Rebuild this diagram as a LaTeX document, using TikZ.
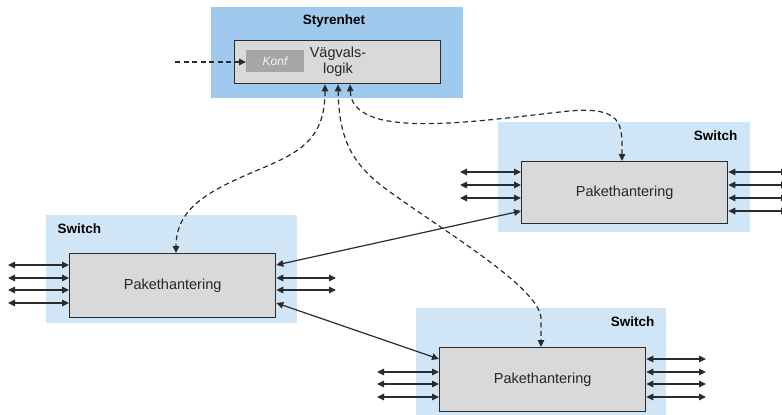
\documentclass[tikz,border=0pt]{standalone}
\usepackage{fontspec}
\setmainfont{Liberation Sans}
\usetikzlibrary{arrows.meta,calc}
\definecolor{ctrlblue}{HTML}{9FCAEE}
\definecolor{swblue}{HTML}{D0E5F6}
\definecolor{boxgray}{HTML}{D9D9D9}
\definecolor{konfgray}{HTML}{A6A6A6}
\definecolor{edge}{HTML}{2B2B2B}
\tikzset{
  panel/.style={draw=none, inner sep=0pt, anchor=north west},
  unit/.style={draw=edge, line width=1.3pt, fill=boxgray, inner sep=0pt, anchor=north west},
  tip/.tip={Triangle[length=7pt,width=6.5pt]},
  port/.style={line width=1.2pt, draw=edge, tip-tip},
  link/.style={line width=1.2pt, draw=edge, tip-tip},
  ctrl/.style={line width=1.2pt, draw=edge, dash pattern=on 5pt off 3.5pt, tip-tip},
  label/.style={font=\fontsize{13.5}{16}\selectfont\bfseries, text=black},
  unittext/.style={font=\fontsize{14.5}{16}\selectfont, text=black!85},
}
\begin{document}
\begin{tikzpicture}[x=1pt,y=-1pt]
\useasboundingbox (0,0) rectangle (782,415);

% control unit
\node[panel, fill=ctrlblue, minimum width=252pt, minimum height=91pt] (ctrl) at (211,7) {};
\node[label] (ctrltitle) at (334,21) {Styrenhet};
\node[unit, minimum width=206pt, minimum height=43pt] (route) at (234,40) {};
\node[panel, fill=konfgray, minimum width=58pt, minimum height=22pt] (konf) at (246,50) {};
\node[font=\fontsize{12}{14}\selectfont\itshape, text=white!92!gray] (konftext) at (275,61) {Konf};
\node[unittext, align=center, inner sep=0pt] (routetext) at (338,62) {Vägvals-\\logik};
\coordinate (cfgin) at (175,62);
\draw[ctrl, -tip] (cfgin) -- (konf.west |- cfgin);

% switches
\node[panel, fill=swblue, minimum width=251pt, minimum height=108pt] (swA) at (46,215) {};
\node[label, anchor=west] (swAtitle) at (54,229) {Switch};
\node[unit, minimum width=206pt, minimum height=64pt] (pA) at (69,253) {};
\node[unittext] (pAtext) at (pA.center) {Pakethantering};

\node[panel, fill=swblue, minimum width=252pt, minimum height=110pt] (swB) at (498,122) {};
\node[label, anchor=east] (swBtitle) at (741,136) {Switch};
\node[unit, minimum width=206pt, minimum height=62pt] (pB) at (521,161) {};
\node[unittext] (pBtext) at (pB.center) {Pakethantering};

\node[panel, fill=swblue, minimum width=250pt, minimum height=110pt] (swC) at (416,308) {};
\node[label, anchor=east] (swCtitle) at (658,322) {Switch};
\node[unit, minimum width=206pt, minimum height=64pt] (pC) at (439,347) {};
\node[unittext] (pCtext) at (pC.center) {Pakethantering};

% external ports
\foreach \y [count=\i] in {265,278,290,303}
  {\coordinate (aL\i) at (8,\y); \draw[port] (aL\i) -- (pA.west |- aL\i);}
\foreach \y [count=\i] in {278,290}
  {\coordinate (aR\i) at (336,\y); \draw[port] (pA.east |- aR\i) -- (aR\i);}
\foreach \y [count=\i] in {172,185,198}
  {\coordinate (bL\i) at (460,\y); \draw[port] (bL\i) -- (pB.west |- bL\i);}
\foreach \y [count=\i] in {172,185,198,211}
  {\coordinate (bR\i) at (788,\y); \draw[port] (pB.east |- bR\i) -- (bR\i);}
\foreach \y [count=\i] in {372,384,397}
  {\coordinate (cL\i) at (377,\y); \draw[port] (cL\i) -- (pC.west |- cL\i);}
\foreach \y [count=\i] in {359,372,384,397}
  {\coordinate (cR\i) at (706,\y); \draw[port] (pC.east |- cR\i) -- (cR\i);}

% links between switches
\draw[link] (pA.east |- 0,265) -- (pB.west |- 0,211);
\draw[link] (pA.east |- 0,303) -- (pC.west |- 0,359);

% control connections
\draw[ctrl] (route.south -| 325,0) .. controls (325,135) and (305,150) .. (265,167)
  .. controls (215,188) and (176,205) .. (pA.north -| 176,0);
\draw[ctrl] (route.south -| 338,0) .. controls (339,140) and (352,165) .. (390,192)
  .. controls (450,235) and (539,288) .. (541,318) -- (pC.north -| 541,0);
\draw[ctrl] (route.south -| 350,0) .. controls (352,140) and (470,122) .. (560,112)
  .. controls (625,104) and (622,125) .. (pB.north -| 622,0);
\end{tikzpicture}
\end{document}
